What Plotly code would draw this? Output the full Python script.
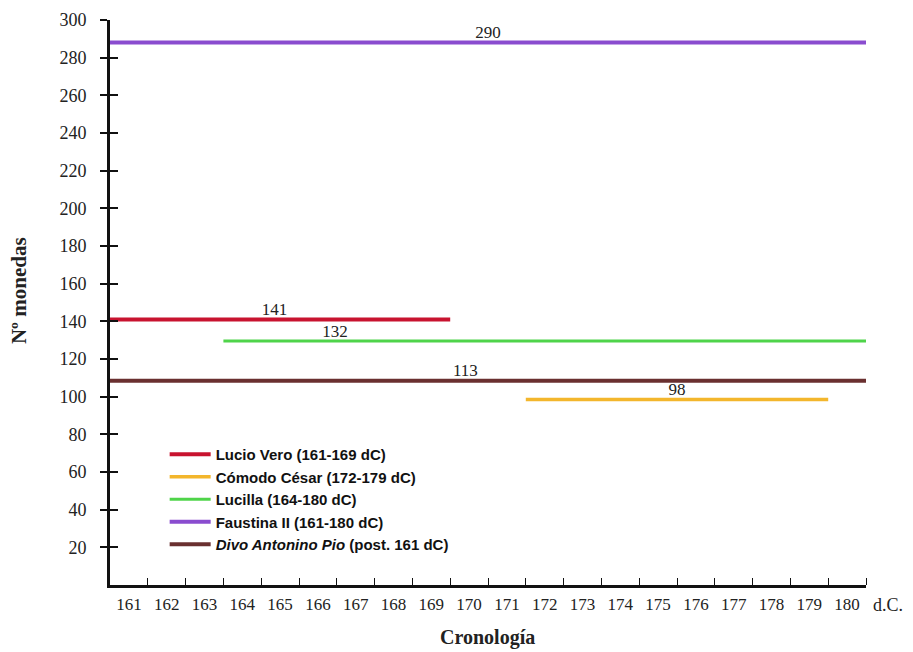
import plotly.graph_objects as go

# ---- data ----
series = ["Lucio Vero", "Cómodo César", "Lucilla", "Faustina II", "Divo Antonino Pio"]
legend_labels = [
    "<b>Lucio Vero (161-169 dC)</b>",
    "<b>Cómodo César (172-179 dC)</b>",
    "<b>Lucilla (164-180 dC)</b>",
    "<b>Faustina II (161-180 dC)</b>",
    "<b><i>Divo Antonino Pio</i> (post. 161 dC)</b>",
]
start_year = [161, 172, 164, 161, 161]
end_year = [169, 179, 180, 180, 180]
level = [141, 98.5, 129.5, 288, 108.5]          # drawn height of each line
count_labels = ["141", "98", "132", "290", "113"]
label_year = [164.85, 175.5, 166.45, 170.5, 169.9]
colors = ["#c8132f", "#f3b62c", "#4fd44a", "#8a4ccf", "#6a3030"]
widths = [4, 3.5, 3, 4, 4]

years = list(range(161, 181))
year_labels = [str(y) for y in years]
y_ticks = list(range(20, 301, 20))

SERIF = "'Times New Roman', 'Liberation Serif', serif"
SANS = "Arial, 'Liberation Sans', sans-serif"

fig = go.Figure()
for i, name in enumerate(series):
    fig.add_trace(go.Scatter(
        x=[start_year[i] - 0.5, end_year[i] + 0.5],
        y=[level[i], level[i]],
        mode="lines",
        line=dict(color=colors[i], width=widths[i]),
        name=legend_labels[i],
        legendgroup=name,
        hoverinfo="skip",
    ))
for i, name in enumerate(series):
    fig.add_trace(go.Scatter(
        x=[label_year[i]], y=[level[i]],
        mode="text", text=[count_labels[i]],
        textposition="top center",
        textfont=dict(family=SERIF, size=17, color="#222"),
        showlegend=False, hoverinfo="skip",
    ))
# invisible trace for the crossing-tick overlay axis
fig.add_trace(go.Scatter(x=[170], y=[150], yaxis="y2", mode="markers",
                         marker=dict(opacity=0), showlegend=False, hoverinfo="skip"))

fig.update_layout(
    width=905, height=644,
    font=dict(family=SERIF, color="#222", size=17),
    margin=dict(l=101.8, r=47, t=12, b=66.6, autoexpand=False),
    paper_bgcolor="white", plot_bgcolor="white",
    showlegend=True,
    legend=dict(
        x=0.0723, y=0.26, xanchor="left", yanchor="top",
        bgcolor="rgba(0,0,0,0)",
        font=dict(family=SANS, size=15, color="#111"),
        tracegroupgap=0,
        itemwidth=41,
        traceorder="normal",
    ),
    xaxis=dict(
        range=[160.5, 180.5],
        tickmode="array", tickvals=years, ticktext=year_labels,
        ticks="", showgrid=False, zeroline=False,
        showline=True, linecolor="#111", linewidth=3,
        tickfont=dict(size=17, color="#222"),
        ticklabelstandoff=2,
        minor=dict(tickmode="array", tickvals=[y + 0.5 for y in years],
                   ticks="inside", ticklen=7, tickwidth=1, tickcolor="#111"),
    ),
    yaxis=dict(
        range=[0, 300],
        tickmode="array", tickvals=y_ticks,
        ticks="outside", ticklen=7, tickwidth=1.5, tickcolor="#111",
        showgrid=False, zeroline=False,
        showline=True, linecolor="#111", linewidth=3,
        tickfont=dict(size=18, color="#222"),
        ticklabelstandoff=10,
    ),
    yaxis2=dict(
        range=[0, 300], overlaying="y", side="left", anchor="x",
        tickmode="array", tickvals=y_ticks,
        ticks="inside", ticklen=8, tickwidth=1.5, tickcolor="#111",
        showticklabels=False, showgrid=False, zeroline=False, showline=False,
    ),
    annotations=[
        dict(text="<b>Nº monedas</b>", xref="paper", yref="paper",
             x=-0.120, y=0.5207, xanchor="center", yanchor="middle",
             textangle=-90, showarrow=False,
             font=dict(family=SERIF, size=21, color="#222")),
        dict(text="<b>Cronología</b>", xref="paper", yref="paper",
             x=0.4988, y=-0.093, xanchor="center", yanchor="middle", showarrow=False,
             font=dict(family=SERIF, size=20, color="#222")),
        dict(text="d.C.", xref="paper", yref="paper", x=1.029, y=-0.0347,
             xanchor="center", yanchor="middle", showarrow=False,
             font=dict(family=SERIF, size=18, color="#222")),
    ],
)

fig.write_html("out.html")
